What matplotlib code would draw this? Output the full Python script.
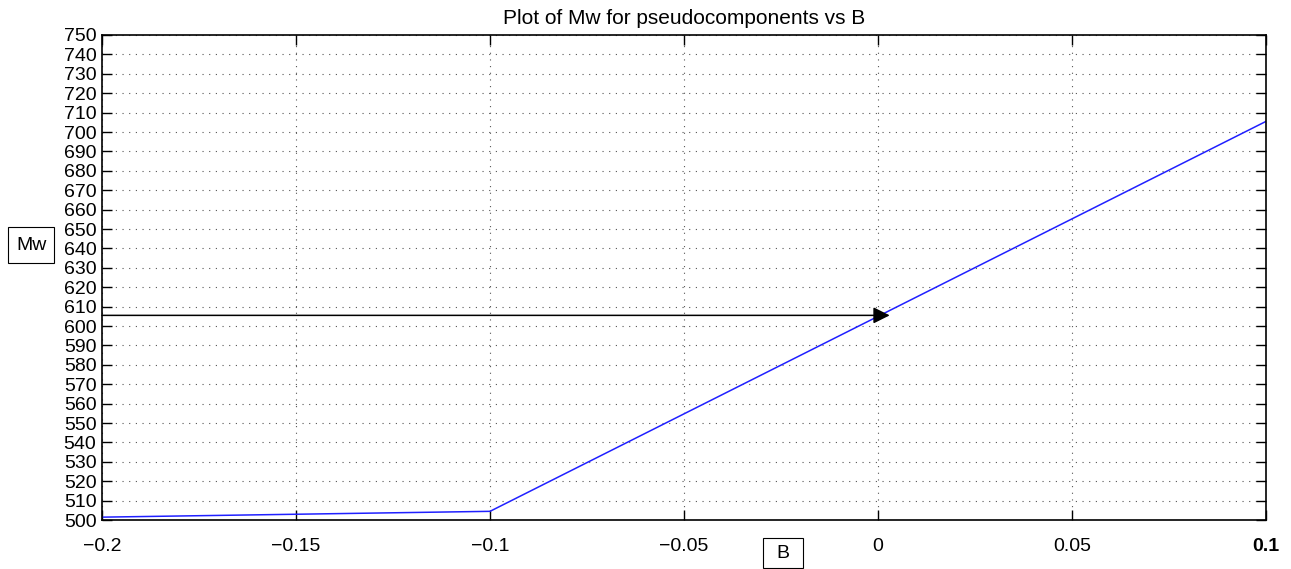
import matplotlib.pyplot as plt
from matplotlib.patches import Rectangle
import numpy as np

# data
b_vals = [-0.2, -0.1, 0.1]
mw_vals = [501.5, 504.5, 705.5]
arrow_start = (-0.2, 605.5)
arrow_end = (0.003, 605.5)
x_ticks = [-0.2, -0.15, -0.1, -0.05, 0, 0.05, 0.1]
x_ticklabels = ["\u22120.2", "\u22120.15", "\u22120.1", "\u22120.05", "0", "0.05", "0.1"]
y_ticks = np.arange(500, 751, 10)

plt.rcParams["font.family"] = ["Liberation Sans", "DejaVu Sans"]

fig = plt.figure(figsize=(12.91, 5.69), dpi=100)
ax = fig.add_axes([0.079, 0.086, 0.9017, 0.8525])

ax.plot(b_vals, mw_vals, color="#2020ff", linewidth=1.1)
ax.annotate("", xy=arrow_end, xytext=arrow_start,
            arrowprops=dict(arrowstyle="-|>", color="black", lw=1.1,
                            mutation_scale=25, shrinkA=0, shrinkB=0))

ax.set_xlim(-0.2, 0.1)
ax.set_ylim(500, 750)
ax.set_xticks(x_ticks)
ax.set_xticklabels(x_ticklabels)
ax.get_xticklabels()[-1].set_fontweight("bold")
ax.set_yticks(y_ticks)
ax.tick_params(direction="in", top=True, right=True, length=7, width=1,
               labelsize=14)
ax.tick_params(axis="x", pad=13)
ax.tick_params(axis="y", pad=4)
ax.grid(True, linestyle=(0, (1, 5)), color="#555555", linewidth=0.8)
for s in ax.spines.values():
    s.set_linewidth(1.2)

ax.set_title("Plot of Mw for pseudocomponents vs B", fontsize=15, pad=8)

# boxed axis labels (MATLAB-style annotations)
W, H = 1291, 569
fig.patches.append(Rectangle((8 / W, 1 - 263 / H), 46 / W, 36 / H,
                             transform=fig.transFigure, facecolor="white",
                             edgecolor="black", linewidth=0.8))
fig.text(32 / W, 1 - 245 / H, "Mw", fontsize=14, ha="center", va="center")
fig.patches.append(Rectangle((763 / W, 1 - 568 / H), 40 / W, 30 / H,
                             transform=fig.transFigure, facecolor="white",
                             edgecolor="black", linewidth=0.8))
fig.text(783 / W, 1 - 553 / H, "B", fontsize=14, ha="center", va="center")

fig.savefig("out.png", dpi=100)
